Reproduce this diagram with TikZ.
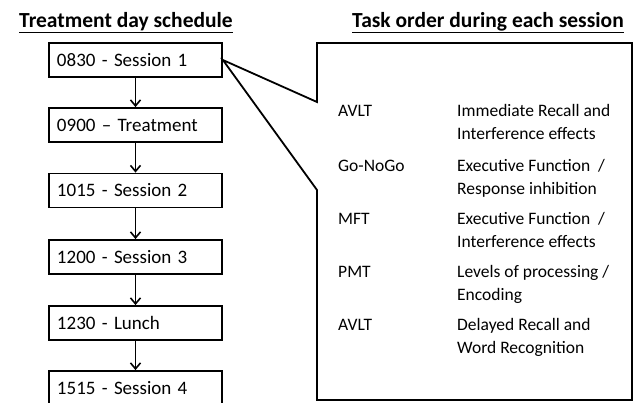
\documentclass[tikz,border=0pt]{standalone}
\usepackage{fontspec}
\setmainfont{Carlito}
\usetikzlibrary{arrows.meta}
\begin{document}
\begin{tikzpicture}[x=1bp,y=-1bp,
  sched/.style={draw,line width=1.8bp,minimum width=173bp,minimum height=34bp,
    inner xsep=8bp,text width=157bp,align=left,font=\fontsize{19bp}{22bp}\selectfont},
  flow/.style={line width=1.8bp,-{Straight Barb[length=6bp,width=10bp,line width=1.6bp]}},
  ttl/.style={font=\fontsize{21.5bp}{24bp}\selectfont\bfseries,anchor=base,inner sep=0pt},
  tname/.style={anchor=base west,inner sep=0pt,font=\fontsize{17.5bp}{23bp}\selectfont}]
\useasboundingbox (0,0) rectangle (633,402);
\clip (0,0) rectangle (633,402);
\node[ttl] (t1) at (126,27) {\underline{Treatment day schedule}};
\node[ttl] (t2) at (488,27) {\underline{Task order during each session}};
\node[sched] (s1) at (135.5,60) {0830 - Session 1};
\node[sched] (s2) at (135.5,125) {0900 -- Treatment};
\node[sched] (s3) at (135.5,190.5) {1015 - Session 2};
\node[sched] (s4) at (135.5,257) {1200 - Session 3};
\node[sched] (s5) at (135.5,323) {1230 - Lunch};
\node[sched] (s6) at (135.5,388) {1515 - Session 4};
\draw[flow,line width=1bp] (s1) -- (s2);
\draw[flow] (s2) -- (s3);
\draw[flow] (s3) -- (s4);
\draw[flow] (s4) -- (s5);
\draw[flow] (s5) -- (s6);
\coordinate (p1) at (317,102);
\coordinate (p2) at (317,43);
\coordinate (p3) at (632,43);
\coordinate (p4) at (632,400);
\coordinate (p5) at (317,400);
\coordinate (p6) at (317,190);
\draw[line width=1.8bp,line join=miter] (s1.east) -- (p1) -- (p2) -- (p3) -- (p4) -- (p5) -- (p6) -- cycle;
\foreach \n/\y/\a/\b/\c in {a/116/AVLT/{Immediate Recall and}/{Interference effects},
  b/171/Go-NoGo/{Executive Function \ /}/{Response inhibition},
  c/224/MFT/{Executive Function \ /}/{Interference effects},
  d/277/PMT/{Levels of processing /}/{Encoding},
  e/330/AVLT/{Delayed Recall and}/{Word Recognition}}{
  \node[tname] (n\n) at (338,\y) {\a};
  \node[tname] (d\n) at (457,\y) {\b};
  \node[tname] (f\n) at (457,\y+23) {\c};
}
\end{tikzpicture}
\end{document}
